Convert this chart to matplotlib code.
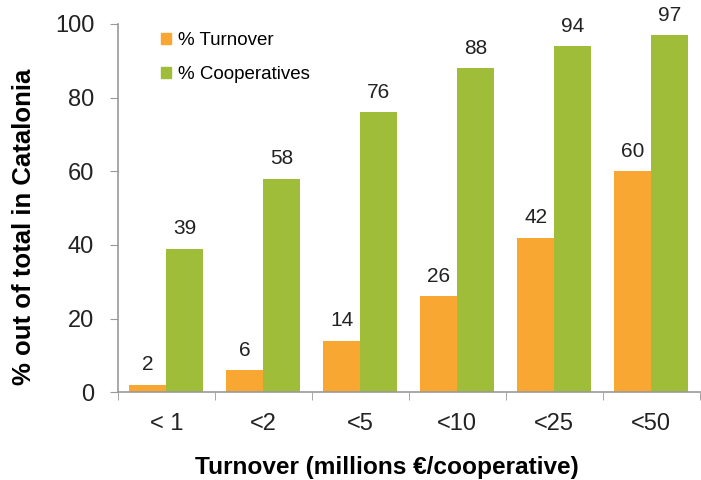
import matplotlib
matplotlib.use("Agg")
import matplotlib.pyplot as plt
import numpy as np
from matplotlib.patches import Patch

categories = ["< 1", "<2", "<5", "<10", "<25", "<50"]
turnover = [2, 6, 14, 26, 42, 60]
cooperatives = [39, 58, 76, 88, 94, 97]
yticks = [0, 20, 40, 60, 80, 100]

plt.rcParams['font.family'] = ['Liberation Sans', 'DejaVu Sans']

fig = plt.figure(figsize=(7.01, 4.8), dpi=100)
ax = fig.add_axes([0.168, 0.183, 0.83, 0.767])

orange = "#F8A832"
green = "#A0BD3A"
x = np.arange(len(categories))
w = 0.38
b1 = ax.bar(x - w/2, turnover, w, color=orange, label="% Turnover")
b2 = ax.bar(x + w/2, cooperatives, w, color=green, label="% Cooperatives")

for bars, vals in ((b1, turnover), (b2, cooperatives)):
    for r, v in zip(bars, vals):
        ax.text(r.get_x() + r.get_width()/2, v + 2.8, str(v), ha='center', va='bottom',
                fontsize=15, color='#222222')

ax.set_xlim(-0.5, len(categories) - 0.5)
ax.set_ylim(0, 100)
ax.set_yticks(yticks)
ax.set_yticklabels([str(t) for t in yticks], fontsize=17, color='#222222')
ax.set_xticks(x)
ax.set_xticklabels(categories, fontsize=17, color='#222222')
ax.set_xticks(np.arange(len(categories) + 1) - 0.5, minor=True)
ax.tick_params(axis='x', which='major', length=0, pad=15)
ax.tick_params(axis='x', which='minor', length=6, color='#999999', direction='out')
ax.tick_params(axis='y', length=6, color='#999999', direction='out', pad=11)

for s in ['top', 'right']:
    ax.spines[s].set_visible(False)
for s in ['left', 'bottom']:
    ax.spines[s].set_color('#999999')
    ax.spines[s].set_linewidth(1.2)

ax.set_ylabel("% out of total in Catalonia", fontsize=18.5, fontweight='bold', va='center')
ax.yaxis.set_label_coords(-0.161, 0.448)
ax.set_xlabel("Turnover (millions €/cooperative)", fontsize=17.6, fontweight='bold', va='center')
ax.xaxis.set_label_coords(0.462, -0.204)

handles = [Patch(color=orange), Patch(color=green)]
ax.legend(handles, ["% Turnover", "% Cooperatives"], loc='upper left',
          bbox_to_anchor=(0.074, 0.978), frameon=False, fontsize=13.5,
          borderpad=0, borderaxespad=0,
          handlelength=0.53, handleheight=0.53, handletextpad=0.4, labelspacing=0.92)

fig.savefig("out.png", dpi=100)
